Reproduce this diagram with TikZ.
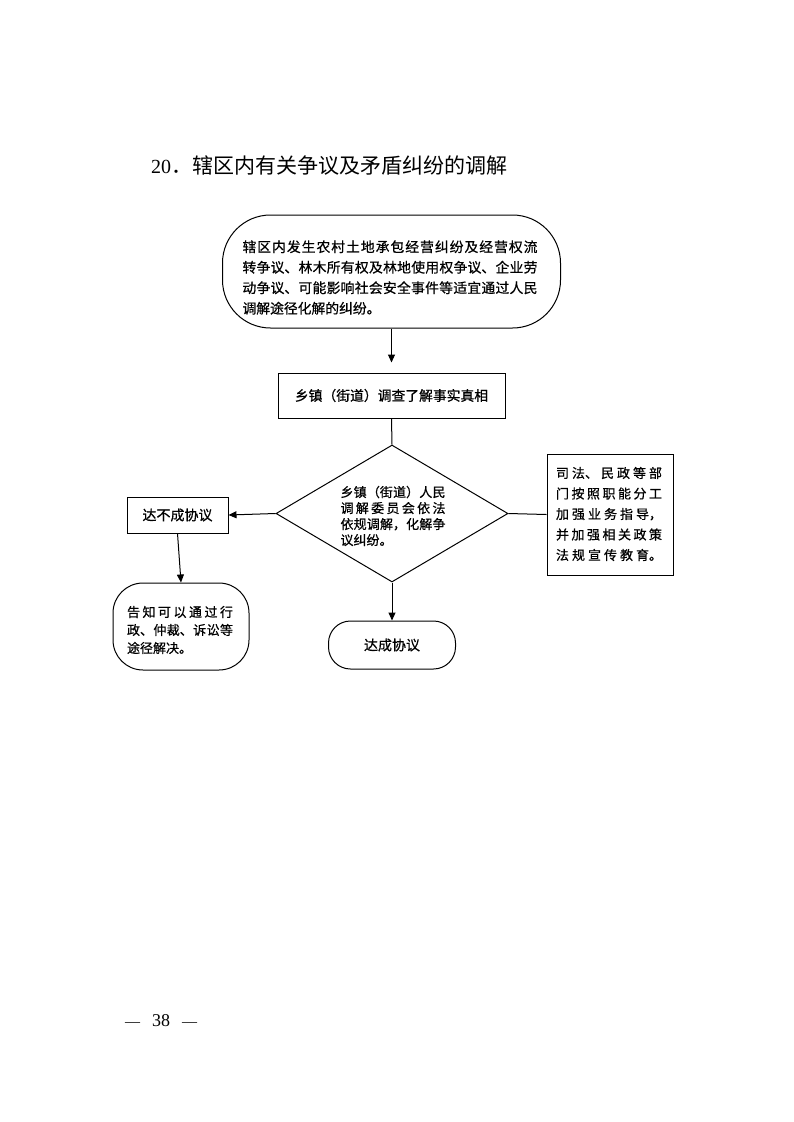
\documentclass[tikz,border=0pt]{standalone}
\usepackage{fontspec}
\setmainfont{Liberation Serif}
\newfontfamily\cjk{Noto Sans CJK SC}
\newfontfamily\cjkb[FakeBold=0.7]{Noto Sans CJK SC}
\usetikzlibrary{arrows.meta,shapes.geometric}
\XeTeXlinebreaklocale "zh"
\XeTeXlinebreakskip=0pt plus 4pt
\begin{document}
\begin{tikzpicture}[x=1pt,y=-1pt,
  box/.style={draw,line width=1pt,inner sep=0pt},
  txt/.style={inner sep=0pt,align=justify},
  arr/.style={line width=1pt,-{Triangle[length=8pt,width=7pt]}},
  ln/.style={line width=1pt}]
\useasboundingbox (0,0) rectangle (793,1122);
\node[anchor=west,inner sep=0pt] (title) at (151,166) {\fontsize{20}{24}\selectfont 20\cjk\fontsize{21}{24}\selectfont ．辖区内有关争议及矛盾纠纷的调解};
\node[box,rounded corners=48pt,minimum width=338pt,minimum height=113pt] (start) at (391.5,271.5) {};
\node[txt,text width=295pt,font=\cjkb\fontsize{13.8}{20.5}\selectfont] (starttext) at (390,277.5) {辖区内发生农村土地承包经营纠纷及经营权流\linebreak 转争议、林木所有权及林地使用权争议、企业劳\linebreak 动争议、可能影响社会安全事件等适宜通过人民\linebreak 调解途径化解的纠纷。};
\node[box,minimum width=227pt,minimum height=45pt,font=\cjkb\fontsize{13.8}{16}\selectfont] (survey) at (391.5,395.5) {乡镇（街道）调查了解事实真相};
\node[box,diamond,minimum width=232pt,minimum height=137pt] (mediate) at (392,513.5) {};
\node[txt,text width=105pt,font=\cjkb\fontsize{13}{16}\selectfont] (mediatetext) at (393,516) {乡镇（街道）人民\linebreak 调解委员会依法\linebreak 依规调解，化解争\linebreak 议纠纷。};
\node[box,minimum width=101pt,minimum height=36pt,font=\cjkb\fontsize{14}{16}\selectfont] (fail) at (177.5,515) {达不成协议};
\node[box,rounded corners=30pt,minimum width=136pt,minimum height=87pt] (other) at (181,626.5) {};
\node[txt,text width=106pt,font=\cjkb\fontsize{13}{18}\selectfont] (othertext) at (180,630) {告知可以通过行\linebreak 政、仲裁、诉讼等\linebreak 途径解决。};
\node[box,rounded corners=22pt,minimum width=127pt,minimum height=48pt,font=\cjkb\fontsize{14}{16}\selectfont] (success) at (392,645) {达成协议};
\node[box,minimum width=126pt,minimum height=121pt] (guide) at (610,514.5) {};
\node[txt,text width=106pt,font=\cjkb\fontsize{13}{20.5}\selectfont] (guidetext) at (609,514) {司法、民政等部\linebreak 门按照职能分工\linebreak 加强业务指导，\linebreak 并加强相关政策\linebreak \hbox to 106pt{法\hfil 规\hfil 宣\hfil 传\hfil 教\hfil 育。}};
\node[inner sep=0pt] (page) at (161,1021) {{\fontsize{15}{18}\selectfont —}\hspace{12pt}{\fontsize{18}{20}\selectfont 38}\hspace{12pt}{\fontsize{15}{18}\selectfont —}};
\draw[arr,shorten >=10pt] (start.south) -- (survey.north);
\draw[ln] (survey.south) -- (mediate.north);
\draw[arr] (mediate.west) -- (fail.east);
\draw[arr] (fail.south) -- (other.north);
\draw[arr] (mediate.south) -- (success.north);
\draw[ln] (mediate.east) -- (guide.west);
\end{tikzpicture}
\end{document}
